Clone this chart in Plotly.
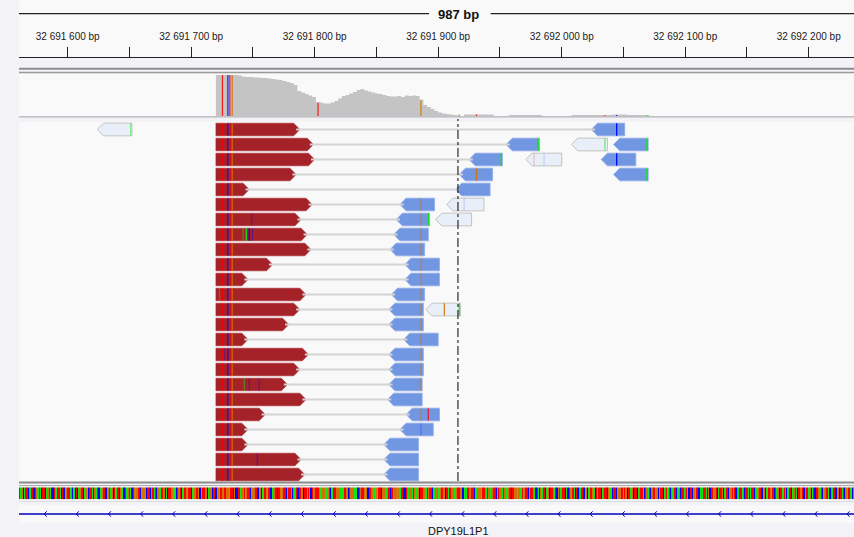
import plotly.graph_objects as go

# ----------------------------- data -----------------------------
tick_values = [32691600, 32691650, 32691700, 32691750, 32691800, 32691850, 32691900,
               32691950, 32692000, 32692050, 32692100, 32692150, 32692200]
tick_labels = ["32 691 600 bp", "", "32 691 700 bp", "", "32 691 800 bp", "",
               "32 691 900 bp", "", "32 692 000 bp", "", "32 692 100 bp", "", "32 692 200 bp"]
view_label = "987 bp"
gene_name = "DPY19L1P1"
gene_start = 32691400
gene_end = 32692400
gene_arrow_pos = [32691581, 32691607, 32691633, 32691659, 32691685, 32691711, 32691737,
                  32691763, 32691789, 32691815, 32691841, 32691867, 32691893, 32691919,
                  32691945, 32691971, 32691997, 32692023, 32692049, 32692075, 32692101,
                  32692127, 32692153, 32692179, 32692205, 32692231]

# coverage (bins of 3 bp starting at coverage_start)
coverage_start = 32691720
coverage_step = 3
coverage_depth = [82, 82, 82, 82, 82, 82, 81, 79, 78, 78,
                  77, 77, 76, 76, 75, 74, 73, 72, 70, 68,
                  66, 62, 50, 47, 44, 41, 38, 28, 27, 25,
                  25, 27, 30, 35, 40, 42, 45, 48, 52, 54,
                  51, 49, 47, 45, 44, 42, 40, 39, 39, 40,
                  38, 41, 40, 41, 40, 33, 22, 18, 14, 10,
                  7, 5, 4, 3, 2, 1, 0,
                  3, 3, 3, 3, 3, 3, 3, 3,
                  0, 0, 0, 0,
                  2, 2, 2, 2, 2, 2, 2, 2, 2,
                  0, 0, 0, 0, 0, 0, 0, 0,
                  2, 2, 2, 2, 2, 2, 2, 2, 2, 2, 2, 3, 3, 3, 3, 2, 2, 2, 2, 2, 2,
                  0]

# coloured allele bars in the coverage track
allele_pos = [32691725.3, 32691729.7, 32691731.3, 32691733.2, 32691802.7, 32691886,
              32691917, 32691931, 32692035, 32692044.5, 32692069]
allele_base = ["T", "C", "T", "G", "T", "G", "G", "T", "T", "C", "A"]
allele_depth = [82, 82, 82, 82, 26, 31, 3, 3, 2, 2, 2]

# paired reads, one pair per row
red_start = [32691720] * 24
red_end = [32691788, 32691799, 32691800, 32691785, 32691747, 32691798, 32691789, 32691794,
           32691797, 32691766, 32691746, 32691793, 32691788, 32691779, 32691746, 32691795,
           32691788, 32691778, 32691793, 32691760, 32691746, 32691746, 32691789, 32691792]
blue_start = [32692024, 32691955, 32691925, 32691917, 32691914, 32691869, 32691866, 32691864,
              32691861, 32691873, 32691873, 32691862, 32691860, 32691860, 32691872, 32691860,
              32691860, 32691860, 32691859, 32691874, 32691869, 32691856, 32691856, 32691856]
blue_end = [32692051, 32691982, 32691952, 32691944, 32691942, 32691897, 32691893, 32691892,
            32691889, 32691901, 32691901, 32691889, 32691888, 32691888, 32691900, 32691888,
            32691888, 32691887, 32691887, 32691901, 32691896, 32691884, 32691884, 32691884]

# other reverse reads
extra_row = [1, 2, 3]
extra_start = [32692042, 32692032, 32692042]
extra_end = [32692070, 32692060, 32692070]

# mapping-quality-zero reads (pale)
pale_row = [0, 1, 2, 5, 6, 12]
pale_start = [32691624, 32692008, 32691971, 32691907, 32691898, 32691890]
pale_end = [32691652, 32692037, 32692000, 32691937, 32691927, 32691918]

# variants shared by every forward read
snp_pos = [32691725.3, 32691729.7, 32691731.3, 32691733.2]
snp_base = ["T", "C", "T", "G"]
snp_qual = [0.8, 0.7, 0.85, 0.9]

# individual mismatches
mm_row = [6, 7, 7, 7, 7, 11, 15, 17, 17, 17, 22,
          5, 6, 7, 8, 9, 10, 11, 12, 13, 14, 15, 16, 17, 19, 20,
          6, 19, 3, 0, 1, 1, 1, 2, 2, 2, 2, 3, 5, 12, 12, 0]
mm_pos = [32691749, 32691742, 32691744.6, 32691747, 32691749.5, 32691723, 32691727,
          32691743, 32691747, 32691755, 32691753.5,
          32691886, 32691886, 32691886, 32691886, 32691886, 32691886, 32691886, 32691886,
          32691886, 32691886, 32691886, 32691886, 32691886, 32691886, 32691886,
          32691892, 32691892, 32691931, 32692044.5, 32691981, 32692035, 32692069,
          32691951, 32691977.6, 32691985.7, 32692044.5, 32692069, 32691921, 32691905,
          32691917, 32691651]
mm_base = ["C", "A", "A", "C", "C", "G", "C", "A", "C", "C", "C",
           "G", "G", "G", "G", "G", "G", "G", "G", "G", "G", "G", "G", "G", "G", "C",
           "A", "T", "G", "C", "A", "A", "A", "A", "T", "C", "C", "A", "C", "G", "A", "A"]
mm_qual = [0.35, 0.45, 1.0, 0.9, 0.4, 0.5, 0.3, 0.5, 0.4, 0.4, 0.4,
           0.5, 0.5, 0.5, 0.5, 0.5, 0.5, 0.5, 0.5, 0.5, 0.5, 0.5, 0.5, 0.5, 0.5, 0.25,
           1.0, 0.8, 0.9, 1.0, 1.0, 0.6, 1.0, 1.0, 0.2, 0.15, 1.0, 1.0, 0.15, 0.9, 1.0, 0.5]

# reference sequence
sequence_start = 32691560
sequence = (
    "CTAGCATTCGATCCTGATACTTCAGTACCTGATTACTCAGTTAGCACTCAGTTCAGACTT"
    "ACGATCCAGTTCAGTAGCTATTCGACCTAGTACTGAGTTCAGGACTTCATATCGAATTGC"
    "ACTTGGAACTGTCAATGATTCAAGTTGCATTTGCAGGCTTCAGATGGTTGGATTCGCCTT"
    "AGGTAGTTCAGGTTCAGCATTGATCCAGTTCTGAGTTCATTGCGATCCTAGCTTATGCTA"
    "GTTTGAGGGAAGTCATTTGGGAAATTGCTGGGAAACTGTTGAGCTTGGAAGATTCGGAAG"
    "TCTTAGGAGATTCCTGAGGATGAAGCTTGGATGTTCAAGGAAGTGGCTATTGGAAGTTGG"
    "CAGATGGTTCAAGGGATTGATGAGGTTCATGGATGAAGTCTTGGAGGATAGTTCATTGAC"
    "TACGATTCAGCTTGATCGTAGTTCACTGATACTCGATTCAGCATTGACTATTCAGTTCGA"
    "ACTTCAGGTTATGCTTAGCTTCAGTTACTGATCGTTAGCATTCAGTATCGATTCAGCTTA"
    "GTACTTCGATTCAGATTACGCTTAGTCATTGCATTCAGTATCGATTAGCTTACATTCGAG"
    "TTCAGCATTGATCTAGCTTATGCATTCAGTACTGATCGTTAGCATCTTGATCAGTTACGA"
    "TTCAGCTATCGATTACGTTC"
)

# ----------------------------- layout constants -----------------------------
W, H = 854, 537
LEFT, TOP = 19, 57
view_start, view_end = 32691560.57, 32692236.67
center_line_bp = 32691916
base_color = {"A": "#12e612", "C": "#0000ff", "G": "#d17105", "T": "#ff0000"}
RED = "#a52228"
BLUE = "#7196e2"
PALE = "#e9eff9"


def py(p):
    return (H - p) / (H - TOP)


def px(p):
    return (p - LEFT) / (W - LEFT)


HR = 0.423   # half read height in row units
TIP = 5.0    # arrow tip length in bp

fig = go.Figure()
shapes = []

# coverage
cov_x = [coverage_start + coverage_step * i for i in range(len(coverage_depth))]
fig.add_trace(go.Scatter(x=cov_x, y=coverage_depth, mode="lines", yaxis="y",
                         line=dict(width=0, shape="hv", color="#c4c4c4"),
                         fill="tozeroy", fillcolor="#c4c4c4", hoverinfo="skip"))
for p, b, d in zip(allele_pos, allele_base, allele_depth):
    shapes.append(dict(type="rect", xref="x", yref="y", x0=p - 0.5, x1=p + 0.5, y0=0, y1=d,
                       fillcolor=base_color[b], opacity=0.85, line=dict(width=0)))

# forward reads
rx, ry = [], []
for i, (s, e) in enumerate(zip(red_start, red_end)):
    c = i + 0.5
    rx += [s, e - TIP, e, e - TIP, s, s, None]
    ry += [c - HR, c - HR, c, c + HR, c + HR, c - HR, None]
fig.add_trace(go.Scatter(x=rx, y=ry, yaxis="y2", mode="lines", fill="toself", fillcolor=RED,
                         line=dict(color=RED, width=0.5), hoverinfo="skip"))


def rev_shapes(rows, starts, ends):
    xs, ys = [], []
    for r, s, e in zip(rows, starts, ends):
        c = r + 0.5
        xs += [s, s + TIP, e, e, s + TIP, s, None]
        ys += [c, c - HR, c - HR, c + HR, c + HR, c, None]
    return xs, ys


bx, by = rev_shapes(range(len(blue_start)), blue_start, blue_end)
ex, ey = rev_shapes(extra_row, extra_start, extra_end)
fig.add_trace(go.Scatter(x=bx + ex, y=by + ey, yaxis="y2", mode="lines", fill="toself",
                         fillcolor=BLUE, line=dict(color="#8eabea", width=0.8), hoverinfo="skip"))
qx, qy = rev_shapes(pale_row, pale_start, pale_end)
fig.add_trace(go.Scatter(x=qx, y=qy, yaxis="y2", mode="lines", fill="toself",
                         fillcolor=PALE, line=dict(color="#c2c2c2", width=1), hoverinfo="skip"))

# mate connection lines
lx, ly = [], []
for i in range(len(red_end)):
    c = i + 0.5
    lx += [red_end[i] - 3, blue_start[i] + 3, None]
    ly += [c, c, None]
fig.add_trace(go.Scatter(x=lx, y=ly, yaxis="y2", mode="lines",
                         line=dict(color="#d4d4d4", width=1.8), hoverinfo="skip"))

# mismatches on reads (drawn above the reads)
for i in range(len(red_start)):
    for p, b, q in zip(snp_pos, snp_base, snp_qual):
        shapes.append(dict(type="rect", xref="x", yref="y2", x0=p - 0.5, x1=p + 0.5,
                           y0=i + 0.5 - HR, y1=i + 0.5 + HR, fillcolor=base_color[b],
                           opacity=q, line=dict(width=0)))
for r, p, b, q in zip(mm_row, mm_pos, mm_base, mm_qual):
    shapes.append(dict(type="rect", xref="x", yref="y2", x0=p - 0.5, x1=p + 0.5,
                       y0=r + 0.5 - HR, y1=r + 0.5 + HR, fillcolor=base_color[b],
                       opacity=q, line=dict(width=0)))

# reference sequence
code = {"A": 0, "C": 1, "G": 2, "T": 3}
seq_edges = [sequence_start + i - 0.5 for i in range(len(sequence) + 1)]
fig.add_trace(go.Heatmap(x=seq_edges, y=[0, 1], z=[[code[b] for b in sequence]], yaxis="y3",
                         zmin=0, zmax=3, showscale=False, hoverinfo="skip",
                         colorscale=[[0, base_color["A"]], [0.1667, base_color["A"]],
                                     [0.1667, base_color["C"]], [0.5, base_color["C"]],
                                     [0.5, base_color["G"]], [0.8333, base_color["G"]],
                                     [0.8333, base_color["T"]], [1, base_color["T"]]]))

# gene
fig.add_trace(go.Scatter(x=[gene_start, gene_end], y=[0, 0], yaxis="y4", mode="lines",
                         line=dict(color="#0000b8", width=1.5), hoverinfo="skip"))
cx, cy = [], []
for p in gene_arrow_pos:
    cx += [p + 2, p, p + 2, None]
    cy += [0.3, 0, -0.3, None]
fig.add_trace(go.Scatter(x=cx, y=cy, yaxis="y4", mode="lines",
                         line=dict(color="#0000b8", width=1), hoverinfo="skip"))

shapes += [
    dict(type="rect", xref="paper", yref="paper", x0=0, x1=1, y0=1, y1=py(0),
         fillcolor="#f9f9f9", line=dict(width=0), layer="below"),
    dict(type="line", xref="paper", yref="paper", x0=0, x1=px(429), y0=py(13.7), y1=py(13.7),
         line=dict(color="#222", width=1.3)),
    dict(type="line", xref="paper", yref="paper", x0=px(490.7), x1=1, y0=py(13.7), y1=py(13.7),
         line=dict(color="#222", width=1.3)),
    dict(type="line", xref="paper", yref="paper", x0=0, x1=1, y0=py(68.7), y1=py(68.7),
         line=dict(color="#8c8c8c", width=2)),
    dict(type="line", xref="paper", yref="paper", x0=0, x1=1, y0=py(72.6), y1=py(72.6),
         line=dict(color="#9a9a9a", width=1.5)),
    dict(type="line", xref="paper", yref="paper", x0=0, x1=1, y0=py(116.9), y1=py(116.9),
         line=dict(color="#a0a0a0", width=1)),
    dict(type="line", xref="paper", yref="paper", x0=0, x1=1, y0=py(482.5), y1=py(482.5),
         line=dict(color="#8c8c8c", width=2)),
    dict(type="line", xref="paper", yref="paper", x0=0, x1=1, y0=py(485.6), y1=py(485.6),
         line=dict(color="#a8a8a8", width=1)),
    dict(type="line", xref="paper", yref="paper", x0=0, x1=1, y0=py(501.5), y1=py(501.5),
         line=dict(color="#dcdcdc", width=1)),
    dict(type="line", xref="x", yref="paper", x0=center_line_bp, x1=center_line_bp,
         y0=py(481), y1=py(119), line=dict(color="#000", width=1, dash="dashdot")),
]

annotations = [
    dict(text="<b>" + view_label + "</b>", xref="paper", yref="paper", x=px(458.2), y=py(14.5),
         xanchor="center", yanchor="middle", showarrow=False, font=dict(size=13, color="#111")),
    dict(text=gene_name, xref="paper", yref="paper", x=px(458.8), y=py(531),
         xanchor="center", yanchor="middle", showarrow=False, font=dict(size=11, color="#111")),
]

fig.update_layout(
    width=W, height=H, margin=dict(l=LEFT, r=0, t=TOP, b=0, pad=0),
    paper_bgcolor="#f3f3f7", plot_bgcolor="#f9f9f9", showlegend=False,
    font=dict(family="Liberation Sans, Arial, sans-serif", color="#222"),
    xaxis=dict(range=[view_start, view_end], side="top", anchor="free", position=1,
               tickmode="array", tickvals=tick_values, ticktext=tick_labels,
               ticks="outside", ticklen=10, tickwidth=1, tickcolor="#222",
               showline=True, linecolor="#222", linewidth=1, showgrid=False, zeroline=False,
               tickfont=dict(size=10, color="#1a1a1a"), ticklabelstandoff=3, fixedrange=True),
    yaxis=dict(domain=[py(116), py(74)], range=[0, 84], visible=False, fixedrange=True),
    yaxis2=dict(domain=[py(482), py(122)], range=[24, 0], visible=False, anchor="x", fixedrange=True),
    yaxis3=dict(domain=[py(499.3), py(487.3)], range=[0, 1], visible=False, anchor="x", fixedrange=True),
    yaxis4=dict(domain=[py(523), py(505)], range=[-1, 1], visible=False, anchor="x", fixedrange=True),
    shapes=shapes, annotations=annotations,
)

fig.write_html("out.html", config={"displayModeBar": False},
               post_script="document.body.style.margin='0';")
